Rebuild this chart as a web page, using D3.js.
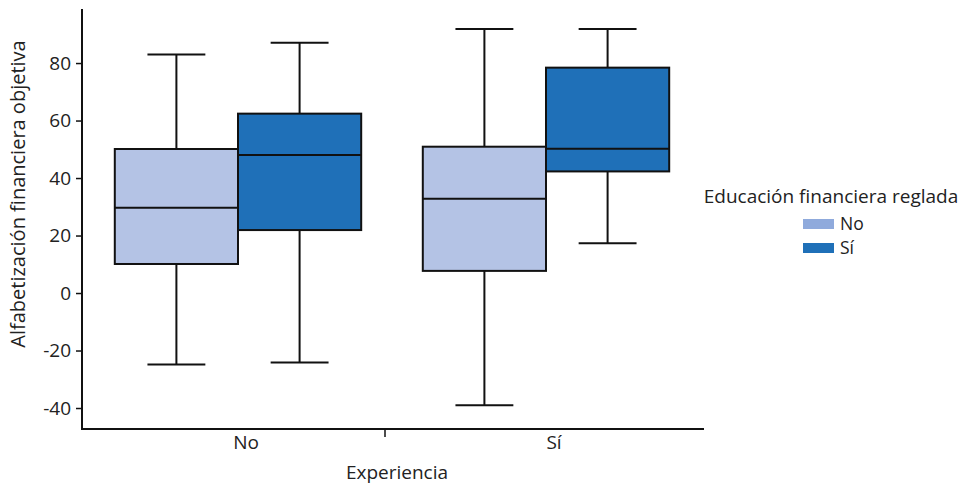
<!DOCTYPE html>
<html>
<head>
<meta charset="utf-8">
<script src="https://cdn.jsdelivr.net/npm/d3@7"></script>
<style>
  body { margin: 0; background: #fff; }
  svg text { font-family: "Open Sans", "Noto Sans", sans-serif; fill: #222; }
</style>
</head>
<body>
<svg id="chart" width="972" height="486"></svg>
<script>
// Groups on the x axis (Experiencia) and legend groups (Educación financiera reglada)
const experiencia = ["No", "Sí"];
const educacion = ["No", "Sí"];
const yTicks = [-40, -20, 0, 20, 40, 60, 80];

// Box summaries per experiencia group, in educacion order
const whiskerLow  = [[-24.9, -24.2], [-39.0, 17.3]];
const q1          = [[10.1, 21.9],   [7.7, 42.3]];
const median      = [[29.7, 48.0],   [32.8, 50.2]];
const q3          = [[50.1, 62.4],   [50.9, 78.4]];
const whiskerHigh = [[83.0, 87.1],   [91.8, 91.8]];

const fillBox = { "No": "#b4c3e5", "Sí": "#1f70b8" };
const fillKey = { "No": "#8faadc", "Sí": "#1f70b8" };

const fontSize = 19;
const svg = d3.select("#chart");
const plotLeft = 82, plotRight = 704, plotTop = 9, plotBottom = 429;

const y = d3.scaleLinear().domain([-47.3, 98.8]).range([plotBottom, plotTop]);
const x = d3.scaleBand().domain(experiencia).range([84, 700])
  .paddingInner(0.2).paddingOuter(0.1);
const xi = d3.scaleBand().domain(educacion).range([0, x.bandwidth()]);

// Boxes
const boxes = [];
experiencia.forEach((g, gi) => educacion.forEach((e, ei) => boxes.push({
  g, e, lo: whiskerLow[gi][ei], q1: q1[gi][ei], med: median[gi][ei],
  q3: q3[gi][ei], hi: whiskerHigh[gi][ei]
})));

const bx = svg.append("g").selectAll("g").data(boxes).join("g")
  .attr("transform", d => `translate(${x(d.g) + xi(d.e)},0)`);
const bw = xi.bandwidth();
const capW = bw * 0.47;

bx.append("line").attr("x1", bw / 2).attr("x2", bw / 2)
  .attr("y1", d => y(d.hi)).attr("y2", d => y(d.lo))
  .attr("stroke", "#111").attr("stroke-width", 2);
bx.append("line").attr("x1", bw / 2 - capW / 2).attr("x2", bw / 2 + capW / 2)
  .attr("y1", d => y(d.hi)).attr("y2", d => y(d.hi))
  .attr("stroke", "#111").attr("stroke-width", 2);
bx.append("line").attr("x1", bw / 2 - capW / 2).attr("x2", bw / 2 + capW / 2)
  .attr("y1", d => y(d.lo)).attr("y2", d => y(d.lo))
  .attr("stroke", "#111").attr("stroke-width", 2);
bx.append("rect").attr("x", 0).attr("width", bw)
  .attr("y", d => y(d.q3)).attr("height", d => y(d.q1) - y(d.q3))
  .attr("fill", d => fillBox[d.e]).attr("stroke", "#111").attr("stroke-width", 2);
bx.append("line").attr("x1", 0).attr("x2", bw)
  .attr("y1", d => y(d.med)).attr("y2", d => y(d.med))
  .attr("stroke", "#111").attr("stroke-width", 2);

// Y axis (plain hyphen for negative labels)
const yAxis = svg.append("g").attr("transform", `translate(${plotLeft},0)`)
  .call(d3.axisLeft(y).tickValues(yTicks).tickFormat(d => String(d))
    .tickSize(6).tickPadding(5).tickSizeOuter(0));
yAxis.select(".domain").remove();
yAxis.selectAll(".tick line").attr("stroke", "#111").attr("stroke-width", 1.5);
yAxis.selectAll("text").attr("font-size", fontSize).attr("fill", "#222");
svg.append("line").attr("x1", plotLeft).attr("x2", plotLeft)
  .attr("y1", plotTop).attr("y2", plotBottom + 1)
  .attr("stroke", "#111").attr("stroke-width", 2);

// X axis
const xAxis = svg.append("g").attr("transform", `translate(0,${plotBottom})`)
  .call(d3.axisBottom(x).tickSize(0).tickPadding(6));
xAxis.select(".domain").remove();
xAxis.selectAll("text").attr("font-size", fontSize).attr("fill", "#222").attr("dx", 8);
svg.append("line").attr("x1", plotLeft).attr("x2", plotRight)
  .attr("y1", plotBottom).attr("y2", plotBottom)
  .attr("stroke", "#111").attr("stroke-width", 2);
const sep = (x("No") + x.bandwidth() + x("Sí")) / 2 - 7;
svg.append("line").attr("x1", sep).attr("x2", sep)
  .attr("y1", plotBottom).attr("y2", plotBottom + 8)
  .attr("stroke", "#111").attr("stroke-width", 1.5);

// Axis titles
svg.append("text").attr("x", 397).attr("y", 479).attr("text-anchor", "middle")
  .attr("font-size", fontSize).text("Experiencia");
svg.append("text").attr("transform", "translate(25,194) rotate(-90)")
  .attr("text-anchor", "middle").attr("font-size", 20)
  .text("Alfabetización financiera objetiva");

// Legend
const lg = svg.append("g");
lg.append("text").attr("x", 831).attr("y", 203).attr("text-anchor", "middle")
  .attr("font-size", fontSize).text("Educación financiera reglada");
const items = lg.selectAll("g.item").data(educacion).join("g")
  .attr("transform", (d, i) => `translate(803,${219 + i * 24})`);
items.append("rect").attr("width", 31).attr("height", 10).attr("fill", d => fillKey[d]);
items.append("text").attr("x", 37).attr("y", 11).attr("font-size", 17.5).text(d => d);
</script>
</body>
</html>
